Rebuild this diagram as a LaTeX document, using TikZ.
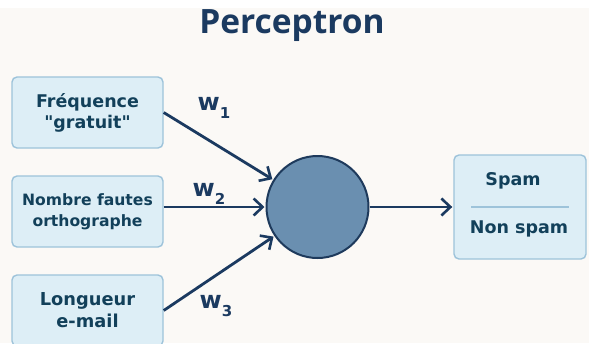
\documentclass[tikz,border=0pt]{standalone}
\usepackage{fontspec}
% plain family: no TeX ligatures, so straight quotes stay straight
\newfontfamily\boxfont{DejaVu Sans}
\setmainfont{DejaVu Sans}
\newfontfamily\titlefont{Open Sans}
\usetikzlibrary{arrows.meta}
\definecolor{bgcream}{HTML}{FBF9F6}
\definecolor{navy}{HTML}{1B3A60}
\definecolor{boxfill}{HTML}{DDEEF6}
\definecolor{boxline}{HTML}{9DC3DA}
\definecolor{boxtext}{HTML}{12405A}
\definecolor{neuronfill}{HTML}{6A8FB0}
\definecolor{neuronline}{HTML}{1E3A5C}
\tikzset{
  inbox/.style={draw=boxline, line width=1.4pt, fill=boxfill, rounded corners=5pt,
    text=boxtext, align=center, font=\boxfont\bfseries, inner sep=0pt},
  link/.style={draw=navy, line width=2.8pt, -{Straight Barb[length=9pt,width=17pt,line width=2.6pt]}, shorten >=1pt},
  weight/.style={text=navy, font=\boxfont\fontsize{24}{24}\selectfont\bfseries, inner sep=0pt},
}
\newcommand{\wlab}[1]{w\raisebox{-0.3em}{\fontsize{15}{15}\selectfont #1}}
\begin{document}
\begin{tikzpicture}[x=1pt,y=-1pt]
  \useasboundingbox (0,0) rectangle (589,343);
  \clip (0,0) rectangle (589,343);
  \fill[bgcream] (0,0) rectangle (589,343);
  \fill[white] (0,0) rectangle (589,8);

  % title
  \node[text=navy, font=\titlefont\fontsize{33.5}{35}\selectfont\bfseries] (title) at (292,26) {Perceptron};

  % input features
  \node[inbox, minimum width=151pt, minimum height=71pt, font=\boxfont\fontsize{17.5}{21}\selectfont\bfseries] (f1) at (87.5,112.5) {Fréquence\\"gratuit"};
  \node[inbox, minimum width=151pt, minimum height=71pt, font=\boxfont\fontsize{15.6}{21}\selectfont\bfseries] (f2) at (87.5,211.5) {Nombre fautes\\orthographe};
  \node[inbox, minimum width=151pt, minimum height=71pt, font=\boxfont\fontsize{17.8}{22}\selectfont\bfseries] (f3) at (87.5,310.5) {Longueur\\e-mail};

  % neuron
  \node[circle, draw=neuronline, line width=2pt, fill=neuronfill, minimum size=102pt, inner sep=0pt] (n) at (317.5,207) {};

  % output
  \node[inbox, minimum width=132pt, minimum height=104pt] (out) at (520,207) {};
  \node[text=boxtext, font=\boxfont\fontsize{17.5}{18}\selectfont\bfseries] (spam) at (513,181) {Spam};
  \node[text=boxtext, font=\boxfont\fontsize{17.5}{18}\selectfont\bfseries] (nonspam) at (519,229) {Non spam};
  \coordinate (divl) at (471,207);
  \coordinate (divr) at (569,207);
  \draw[boxline, line width=1.3pt] (divl) -- (divr);

  % connections
  \draw[link] (f1.east) -- (n);
  \draw[link] (n.west -| f2.east) -- (n.west);
  \draw[link] (f3.east) -- (n);
  \draw[link] (n.east) -- (out.west);

  % weights
  \node[weight] (w1) at (214,108) {\wlab{1}};
  \node[weight] (w2) at (209,194) {\wlab{2}};
  \node[weight] (w3) at (216,306) {\wlab{3}};
\end{tikzpicture}
\end{document}
